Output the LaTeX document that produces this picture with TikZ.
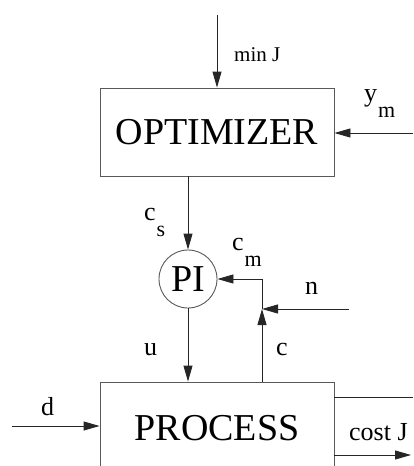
\documentclass[tikz,border=0pt]{standalone}
\usepackage{fontspec}
\setmainfont{Liberation Serif}
\usetikzlibrary{calc}
\usetikzlibrary{arrows.meta}

\newcommand{\lowsub}[2]{#1\kern1pt\raisebox{-16pt}{\fontsize{22}{22}\selectfont #2}}

\begin{document}
\begin{tikzpicture}[x=1pt, y=-1pt,
    block/.style={draw=black!65, line width=0.9pt, font=\fontsize{38}{40}\selectfont, inner sep=0pt},
    sig/.style={draw=black!85, line width=0.9pt},
    arr/.style={sig, -{Triangle[length=16pt, width=9pt]}},
    lbl/.style={anchor=base west, inner sep=0pt, font=\fontsize{26}{28}\selectfont}]

    \useasboundingbox (0, 0) rectangle (413, 466);

    \node[block, minimum width=234, minimum height=88] (opt) at (217, 132) {OPTIMIZER};
    \node[block, circle, minimum size=58] (pi) at (188, 279) {PI};
    \node[block, minimum width=234, minimum height=92] (proc) at (217, 428) {PROCESS};

    \coordinate (minJ) at (217, 15);
    \coordinate (ym) at (413, 133);
    \coordinate (j) at (262, 309);
    \coordinate (nIn) at (349, 309);
    \coordinate (dIn) at (12, 426);
    \coordinate (costA) at (413, 397);
    \coordinate (costB) at (411, 455);

    \draw[arr] (minJ) -- (opt);
    \draw[arr] (ym) -- (ym -| opt.east);
    \draw[arr] (pi |- opt.south) -- (pi);
    \draw[arr] (pi) -- (pi |- proc.north);
    \draw[arr] (j |- proc.north) -- (j);
    \draw[arr] (j) |- (pi);
    \draw[arr] (nIn) -- (j);
    \draw[arr] (dIn) -- (dIn -| proc.west);
    \draw[sig] (costA -| proc.east) -- (costA);
    \draw[arr] (costB -| proc.east) -- (costB);

    \node[lbl, font=\fontsize{21}{23}\selectfont] (lminJ) at (234, 61) {min J};
    \node[lbl] (lym) at (364, 101) {\lowsub{y}{m}};
    \node[lbl] (lcs) at (144, 220) {\lowsub{c}{s}};
    \node[lbl] (lcm) at (232, 250) {\lowsub{c}{m}};
    \node[lbl] (ln) at (305, 294) {n};
    \node[lbl] (lu) at (144, 355) {u};
    \node[lbl] (lc) at (276, 355) {c};
    \node[lbl] (ld) at (41, 415) {d};
    \node[lbl] (lcost) at (349, 440) {cost J};

\end{tikzpicture}
\end{document}
